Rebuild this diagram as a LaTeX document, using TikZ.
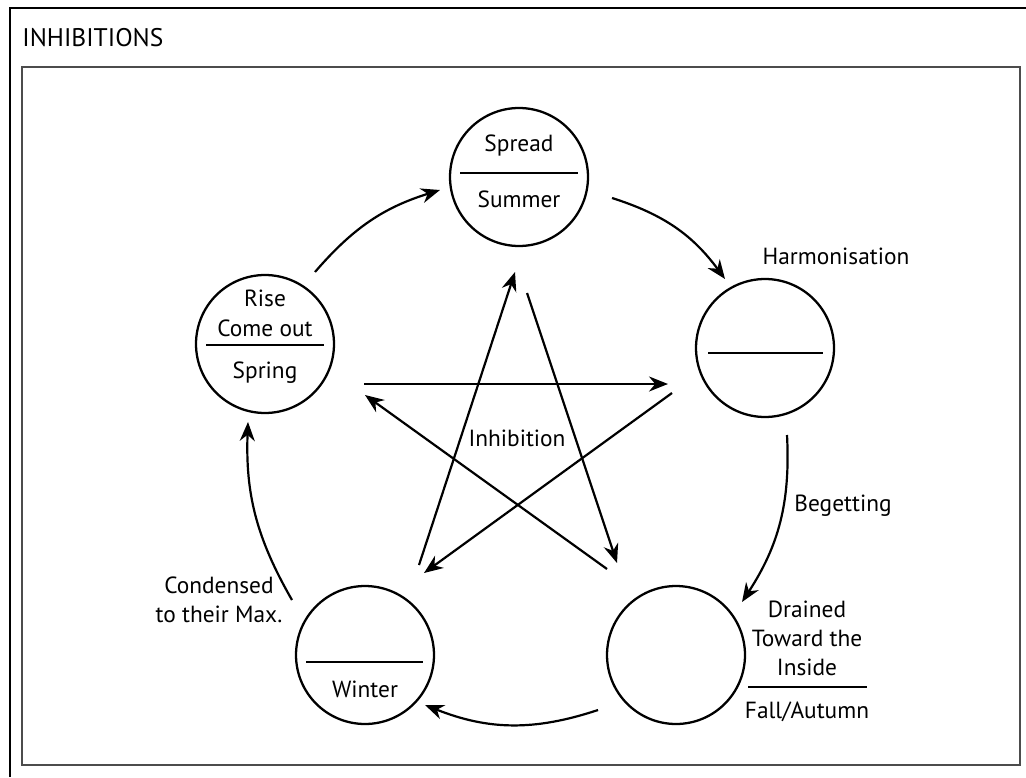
\documentclass[tikz,border=0pt]{standalone}
\usepackage{fontspec}
\setmainfont{PT Sans}
\usetikzlibrary{arrows.meta}

\begin{document}
\begin{tikzpicture}[x=0.02cm, y=-0.02cm,
    every node/.style={font=\fontsize{13.3}{16.5}\selectfont, inner sep=0pt},
    phase/.style={circle, draw, line width=1.3pt, minimum size=2.76cm},
    arr/.style={-{Stealth[length=0.38cm, width=0.3cm]}, line width=1.25pt},
    sep/.style={line width=1pt}]
  \useasboundingbox (0,0) rectangle (1026,777);
  \draw[line width=1.3pt] (10,777) -- (10,8) -- (1026,8);
  \draw[line width=1.6pt, black!70] (22,67) rectangle (1020,765);
  \node[anchor=west, font=\fontsize{14.5}{16}\selectfont] (title) at (22,38) {INHIBITIONS};

  % the five phases
  \node[phase] (summer) at (519,177) {};
  \node[phase] (harm) at (765,348) {};
  \node[phase] (fall) at (676,655) {};
  \node[phase] (winter) at (365,655) {};
  \node[phase] (spring) at (265,344) {};

  \node (spread) at (519,146) {Spread};
  \draw[sep] ([shift={(-59,-4)}]summer.center) -- ++(118,0);
  \node (summertxt) at (519,199) {Summer};

  \node[align=center, font=\fontsize{13.3}{17}\selectfont] (rise) at (265,313) {Rise\\Come out};
  \draw[sep] ([shift={(-59,1)}]spring.center) -- ++(118,0);
  \node (springtxt) at (265,373) {Spring};

  \draw[sep] ([shift={(-57,5)}]harm.center) -- ++(115,0);
  \node (harmtxt) at (836,256) {Harmonisation};

  \draw[sep] ([shift={(-59,7)}]winter.center) -- ++(117,0);
  \node (wintertxt) at (365,689) {Winter};
  \node[align=center] (condensed) at (219,600) {Condensed\\to their Max.};

  \node[align=center] (drained) at (807,638) {Drained\\Toward the\\Inside};
  \draw[sep] (748,687) -- (867,687);
  \node (falltxt) at (807,712) {Fall/Autumn};

  \node (beget) at (843,506) {Begetting};
  \node (inhib) at (517,438) {Inhibition};

  % generating cycle
  \draw[arr] ([shift={(50,-72)}]spring.center) to[bend left=16] ([shift={(-79,13)}]summer.center);
  \draw[arr] ([shift={(93,21)}]summer.center) to[bend left=18] ([shift={(-40,-69)}]harm.center);
  \draw[arr] ([shift={(22,87)}]harm.center) to[bend left=18] ([shift={(66,-53)}]fall.center);
  \draw[arr] ([shift={(-78,55)}]fall.center) to[bend left=20] ([shift={(60,50)}]winter.center);
  \draw[arr] ([shift={(-73,-55)}]winter.center) to[bend left=16] ([shift={(-17,78)}]spring.center);

  % inhibition star
  \draw[arr] ([shift={(99,40)}]spring.center) -- ([shift={(-97,36)}]harm.center);
  \draw[arr] ([shift={(-93,45)}]harm.center) -- ([shift={(59,-82)}]winter.center);
  \draw[arr] ([shift={(54,-90)}]winter.center) -- ([shift={(-4,95)}]summer.center);
  \draw[arr] ([shift={(8,116)}]summer.center) -- ([shift={(-59,-92)}]fall.center);
  \draw[arr] ([shift={(-69,-86)}]fall.center) -- ([shift={(100,51)}]spring.center);
\end{tikzpicture}
\end{document}
